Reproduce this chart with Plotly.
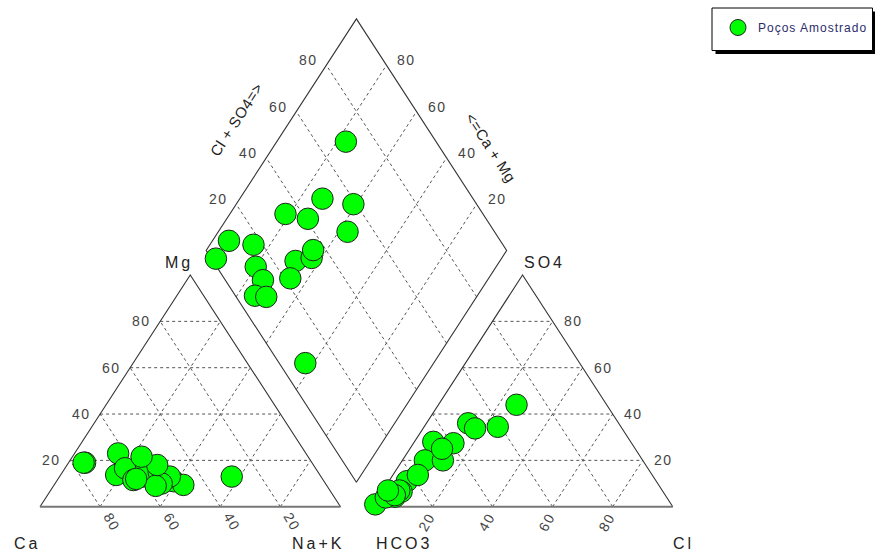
import numpy as np
import plotly.graph_objects as go

# ---------------- data (percent of meq) ----------------
samples = [f"P{i}" for i in range(1, 19)]
mg   = [13, 11, 13.7, 16, 9.4, 19, 23, 19, 15, 13, 10, 16.6, 11.5, 9, 12, 18, 21.6, 13]
na_k = [27.5, 39, 18.5, 27, 43, 5.5, 14.5, 5, 32, 36.7, 35.5, 20, 25.3, 34, 26, 30, 23, 57.3]
ca   = [round(100 - a - b, 1) for a, b in zip(mg, na_k)]
so4  = [36, 34.5, 28, 27.4, 33.8, 4.3, 11, 1, 20, 20, 25, 6.5, 7, 13.7, 4, 5, 44, 7]
cl   = [13.9, 24.5, 6.3, 13.3, 17.3, 5.4, 6, 0.5, 7.5, 13.5, 10.7, 6.5, 5.5, 8.3, 2.5, 5, 26, 1.7]
hco3 = [round(100 - a - b, 1) for a, b in zip(so4, cl)]

tick_vals = [20, 40, 60, 80]
legend_name = "Poços Amostrado"

# ---------------- geometry ----------------
H = np.sqrt(3) / 2
G = 0.1058
W, HT = 875, 552
X0, PXX = 40.0, 300.5
Y0, PXY = 506.7, 267.5


def cat_xy(m, n):
    m = np.asarray(m) / 100.0
    n = np.asarray(n) / 100.0
    return n + m / 2, H * m


def an_xy(s, c):
    s = np.asarray(s) / 100.0
    c = np.asarray(c) / 100.0
    return 1 + G + c + s / 2, H * s


def dia_xy(s, c):
    # s = Cl+SO4 fraction, c = Ca+Mg fraction
    s = np.asarray(s) / 100.0
    c = np.asarray(c) / 100.0
    return 1 + G / 2 + 0.5 * (s - c), G * H + H * (s + c)


fig = go.Figure()

LINE = dict(color="#333333", width=1.1)
GRID = dict(color="#555555", width=1, dash="3px,3px")


def seg(xs, ys, style):
    fig.add_trace(go.Scatter(x=xs, y=ys, mode="lines", line=style,
                             hoverinfo="skip", showlegend=False))


# grids: left triangle
for k in tick_vals:
    r = 100 - k
    x, y = cat_xy([k, k], [0, r]); seg(x, y, GRID)          # Mg constant
    x, y = cat_xy([0, r], [k, k]); seg(x, y, GRID)          # Na+K constant
    x, y = cat_xy([0, r], [r, 0]); seg(x, y, GRID)          # Ca constant
# grids: right triangle
for k in tick_vals:
    r = 100 - k
    x, y = an_xy([k, k], [0, r]); seg(x, y, GRID)
    x, y = an_xy([0, r], [k, k]); seg(x, y, GRID)
    x, y = an_xy([0, r], [r, 0]); seg(x, y, GRID)
# grids: diamond
for k in tick_vals:
    x, y = dia_xy([k, k], [0, 100]); seg(x, y, GRID)
    x, y = dia_xy([0, 100], [k, k]); seg(x, y, GRID)

# outlines
x, y = cat_xy([0, 100, 0], [0, 0, 100]); seg(x, y, LINE)
x, y = an_xy([0, 100, 0], [0, 0, 100]); seg(x, y, LINE)
x, y = dia_xy([0, 0, 100, 100, 0], [0, 100, 100, 0, 0]); seg(x, y, LINE)
BASE = dict(color="#777777", width=2)
x, y = cat_xy([0, 0], [0, 100]); seg(x, y, BASE)
x, y = an_xy([0, 0], [0, 100]); seg(x, y, BASE)

# points
MK = dict(color="#00FF00", size=21.5, line=dict(color="#222222", width=1))
cx, cy = cat_xy(mg, na_k)
ax_, ay_ = an_xy(so4, cl)
dx, dy = dia_xy([a + b for a, b in zip(so4, cl)], [a + b for a, b in zip(ca, mg)])
leg_label = f'<span style="letter-spacing:1px">{legend_name}</span>'
fig.add_trace(go.Scatter(x=cx, y=cy, mode="markers", marker=MK, name=leg_label,
                         legendgroup="p", showlegend=True, text=samples))
fig.add_trace(go.Scatter(x=ax_, y=ay_, mode="markers", marker=MK, name=leg_label,
                         legendgroup="p", showlegend=False, text=samples))
fig.add_trace(go.Scatter(x=dx, y=dy, mode="markers", marker=MK, name=leg_label,
                         legendgroup="p", showlegend=False, text=samples))

# ---------------- labels ----------------
TICKF = dict(family="Liberation Sans, Arial", size=14, color="#444444")
TITF = dict(family="Liberation Sans, Arial", size=16, color="#222222")
ann = []


def sp(t, s=2):
    return f'<span style="letter-spacing:{s}px">{t}</span>'


for k in tick_vals:
    # Mg on left edge
    x, y = cat_xy([k], [0])
    ann.append(dict(x=x[0], y=y[0], text=sp(k, 1.5), xanchor="right", yanchor="middle",
                    xshift=-7, font=TICKF))
    # Ca on base
    x, y = cat_xy([0], [100 - k])
    ann.append(dict(x=x[0], y=y[0], text=sp(k, 1.5), textangle=60, xanchor="center",
                    yanchor="middle", xshift=12, yshift=-15, font=TICKF))
    # SO4 on right edge
    x, y = an_xy([k], [100 - k])
    ann.append(dict(x=x[0], y=y[0], text=sp(k, 1.5), xanchor="left", yanchor="middle",
                    xshift=9, font=TICKF))
    # Cl on base
    x, y = an_xy([0], [k])
    ann.append(dict(x=x[0], y=y[0], text=sp(k, 1.5), textangle=-60, xanchor="center",
                    yanchor="middle", xshift=-6, yshift=-15, font=TICKF))
    # diamond: Cl+SO4 on upper-left edge
    x, y = dia_xy([k], [100])
    ann.append(dict(x=x[0], y=y[0], text=sp(k, 1.5), xanchor="right", yanchor="middle",
                    xshift=-6, yshift=5, font=TICKF))
    # diamond: Ca+Mg on upper-right edge
    x, y = dia_xy([100], [k])
    ann.append(dict(x=x[0], y=y[0], text=sp(k, 1.5), xanchor="left", yanchor="middle",
                    xshift=9, yshift=5, font=TICKF))


def px2d(px, py):
    return (px - X0) / PXX, (Y0 - py) / PXY


titles = [("Ca", 26.7, 543.3, 0), ("Na+K", 318.3, 543.3, 0), ("Mg", 179, 262.5, 0),
          ("HCO3", 404, 543.3, 0), ("Cl", 683.3, 543.3, 0), ("SO4", 544.5, 262, 0)]
for t, px, py, ang in titles:
    x, y = px2d(px, py)
    ann.append(dict(x=x, y=y, text=sp(t, 3), xanchor="center", yanchor="middle",
                    font=TITF, textangle=ang))

x, y = px2d(236, 119)
ann.append(dict(x=x, y=y, text=sp("Cl + SO4=>", 0.5), textangle=-57, xanchor="center",
                yanchor="middle", font=dict(family="Liberation Sans, Arial", size=15, color="#222")))
x, y = px2d(491, 147)
ann.append(dict(x=x, y=y, text=sp("<=Ca + Mg", 0.5), textangle=57, xanchor="center",
                yanchor="middle", font=dict(family="Liberation Sans, Arial", size=15, color="#222")))

for a in ann:
    a.update(showarrow=False, xref="x", yref="y")

# legend frame with drop shadow
shapes = [
    dict(type="rect", xref="paper", yref="paper", x0=715.5 / W, x1=876 / W,
         y0=1 - 54 / HT, y1=1 - 11.5 / HT, fillcolor="#000000", line=dict(width=0), layer="below"),
    dict(type="rect", xref="paper", yref="paper", x0=712 / W, x1=872.5 / W,
         y0=1 - 50.5 / HT, y1=1 - 8 / HT, fillcolor="#FFFFFF",
         line=dict(color="#000000", width=1), layer="below"),
]

fig.update_layout(
    width=W, height=HT, margin=dict(l=0, r=0, t=0, b=0),
    paper_bgcolor="white", plot_bgcolor="white",
    xaxis=dict(range=[(0 - X0) / PXX, (W - X0) / PXX], visible=False, fixedrange=True),
    yaxis=dict(range=[(Y0 - HT) / PXY, Y0 / PXY], visible=False, fixedrange=True),
    annotations=ann, shapes=shapes,
    showlegend=True,
    legend=dict(x=718 / W, y=1 - 13 / HT, xanchor="left", yanchor="top",
                bgcolor="rgba(0,0,0,0)", borderwidth=0,
                font=dict(family="Liberation Sans, Arial", size=12, color="#2c2c6c"),
                itemsizing="trace"),
)

fig.write_html("out.html", config={"displayModeBar": False},
               post_script="document.body.style.margin='0px';document.body.style.overflow='hidden';")
